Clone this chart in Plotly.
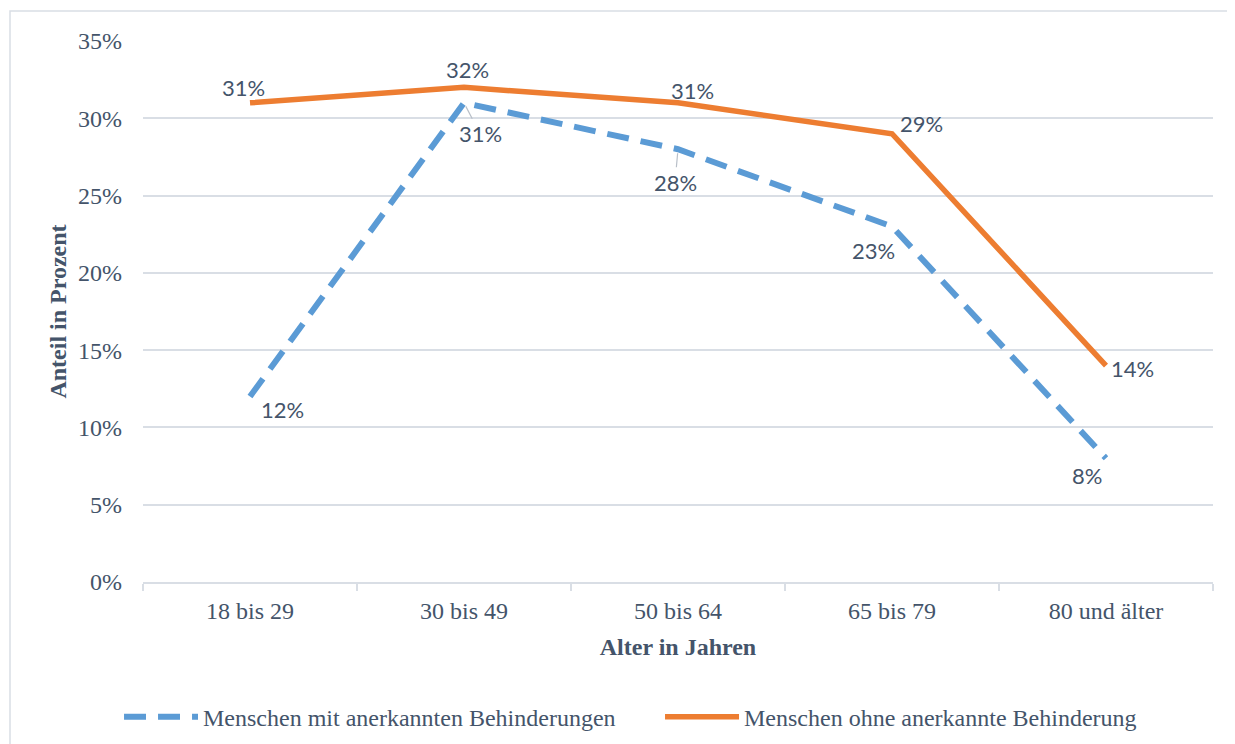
import plotly.graph_objects as go

categories = ["18 bis 29", "30 bis 49", "50 bis 64", "65 bis 79", "80 und älter"]
mit_behinderung = [0.12, 0.31, 0.28, 0.23, 0.08]
ohne_behinderung = [0.31, 0.32, 0.31, 0.29, 0.14]
name_mit = "Menschen mit anerkannten Behinderungen"
name_ohne = "Menschen ohne anerkannte Behinderung"
y_ticks = [0, 0.05, 0.10, 0.15, 0.20, 0.25, 0.30, 0.35]

# label offsets (px) relative to each point, and whether a leader line is drawn
off_ohne = [(-7, 15), (3, 18), (14, 12), (29, 10), (26, -3)]
off_mit = [(32, -13), (16, -31), (-3, -33), (-19, -24), (-19, -17)]
leader_ohne = [False] * 5
leader_mit = [False, True, True, False, False]

TEXT = "#44546A"
GRID = "#d9dee5"
SERIF = "Liberation Serif, Times New Roman, serif"
SANS = "Lato, Carlito, Calibri, sans-serif"

fig = go.Figure()
fig.add_trace(go.Scatter(
    x=categories, y=mit_behinderung, name=name_mit, mode="lines",
    line=dict(color="#5B9BD5", width=6, dash="22px,12px"), legend="legend",
))
fig.add_trace(go.Scatter(
    x=categories, y=ohne_behinderung, name=name_ohne, mode="lines",
    line=dict(color="#ED7D31", width=5.5), legend="legend2",
))

for vals, offs, leads in ((ohne_behinderung, off_ohne, leader_ohne),
                          (mit_behinderung, off_mit, leader_mit)):
    for c, v, (dx, dy), lead in zip(categories, vals, offs, leads):
        label = f"{round(v*100)}%"
        fnt = dict(family=SANS, size=22, color=TEXT)
        if lead:
            fig.add_annotation(x=c, y=v, text=label, showarrow=True, arrowhead=0,
                               arrowwidth=1.2, arrowcolor="#b8bfc8", ax=dx, ay=-dy,
                               standoff=4, font=fnt)
        else:
            fig.add_annotation(x=c, y=v, text=label, showarrow=False,
                               xshift=dx, yshift=dy, font=fnt)

# chart border (page has an 8px body margin; plot area spans 143..1213 x 41..584 on screen)
fig.add_shape(type="rect", xref="paper", yref="paper",
              x0=(10 - 143) / 1070, x1=(1300 - 143) / 1070,
              y0=(584 - 800) / 543, y1=(584 - 11) / 543,
              line=dict(color="#d9dee5", width=1.5), layer="below")

legend_common = dict(orientation="h", xanchor="left",
                     y=-0.250, yanchor="middle", itemwidth=74,
                     font=dict(family=SERIF, size=24, color=TEXT),
                     bgcolor="rgba(0,0,0,0)")

fig.update_layout(
    width=1235, height=744,
    paper_bgcolor="white", plot_bgcolor="white",
    margin=dict(l=135, r=30, t=33, b=168),
    font=dict(family=SERIF, size=24, color=TEXT),
    showlegend=True,
    legend=dict(x=-0.0224, **legend_common),
    legend2=dict(x=0.4832, **legend_common),
    xaxis=dict(
        type="category", range=[-0.5, 4.5],
        showgrid=False, showline=True, linecolor=GRID, linewidth=1.5,
        ticks="outside", tickson="boundaries", ticklen=7, tickcolor=GRID, tickwidth=1.5,
        ticklabelstandoff=6,
        tickfont=dict(family=SERIF, size=24, color=TEXT),
        title=dict(text="<b>Alter in Jahren</b>", font=dict(family=SERIF, size=24, color=TEXT),
                   standoff=16),
        fixedrange=True,
    ),
    yaxis=dict(
        range=[0, 0.35], tickvals=y_ticks, tickformat=".0%",
        showgrid=True, gridcolor=GRID, gridwidth=1.5, zeroline=False,
        showline=False, ticks="", ticklabelstandoff=20,
        tickfont=dict(family=SERIF, size=24, color=TEXT),
        title=dict(text="<b>Anteil in Prozent</b>", font=dict(family=SERIF, size=24, color=TEXT),
                   standoff=4),
        fixedrange=True,
    ),
)

fig.write_html("out.html")
